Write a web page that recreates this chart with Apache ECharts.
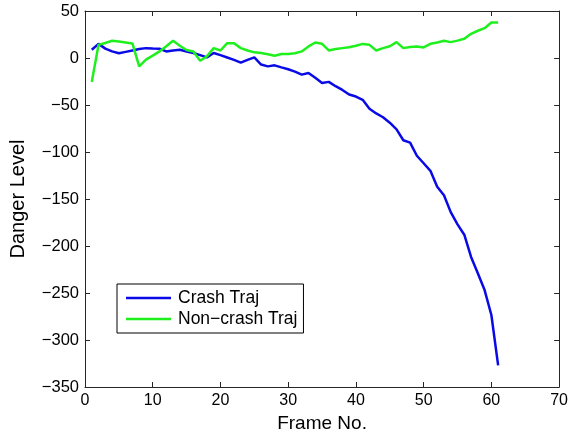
<!DOCTYPE html>
<html>
<head>
<meta charset="utf-8">
<script src="https://cdn.jsdelivr.net/npm/echarts@6/dist/echarts.min.js"></script>
<style>
  html, body { margin: 0; padding: 0; background: #fff; }
  #chart { width: 571px; height: 438px; }
</style>
</head>
<body>
<div id="chart"></div>
<script>
// Frame numbers 1..61
const frames = [];
for (let i = 1; i <= 61; i++) frames.push(i);

// Danger level per frame, crash trajectory
const crashTraj = [
  8.8, 15, 10, 7, 5, 6.5, 8, 9.5, 10.5, 10,
  9.8, 7, 8, 8.8, 7, 5.3, 3, 0.6, 5.3, 3,
  0.5, -2, -5, -2, 0.6, -7, -8.9, -7.8, -10, -12,
  -14.5, -17.7, -15.9, -21, -26.5, -25.4, -30, -34, -38.8, -41,
  -44.5, -54, -59, -63, -68.8, -75.9, -87.5, -90, -104, -112,
  -120, -137, -146, -164, -177, -188, -211.6, -229, -246.9, -273.4,
  -327
];

// Danger level per frame, non-crash trajectory
const nonCrashTraj = [
  -25.4, 14, 16, 18.3, 17.5, 16.5, 15.5, -8.9, -1.8, 2.5,
  7, 12.5, 18.3, 13, 8.5, 7, -2.9, 1.7, 10.5, 8,
  15.8, 15.8, 10.5, 8, 6, 5.3, 4, 2.4, 4.2, 4.2,
  5, 7, 12.3, 16.5, 15.1, 8, 9.5, 10.5, 11.5, 13,
  15, 14, 8, 10.5, 12.5, 16.9, 10.5, 11.6, 12.3, 11.2,
  15.1, 16.5, 18.3, 16.9, 18.5, 20.4, 25.7, 29, 31.7, 37.7,
  37.7
];

const seriesNames = ['Crash Traj', 'Non\u2212crash Traj'];
const seriesColors = ['#0a0ae6', '#1ef01e'];

const pair = (ys) => ys.map((y, i) => [frames[i], y]);

const FONT = '"Liberation Sans", Arial, Helvetica, sans-serif';
const AXIS = '#262626';

const chart = echarts.init(document.getElementById('chart'), null, { renderer: 'canvas' });

const tickLabel = (v) => String(v).replace('-', '\u2212');

// Box frame: axis lines stay on the plot edges, ticks point inward
const baseAxisLine = { show: true, onZero: false, lineStyle: { color: AXIS, width: 1 } };
const innerTick = { show: true, inside: true, length: 5, lineStyle: { color: AXIS, width: 1 } };

chart.setOption({
  animation: false,
  backgroundColor: '#fff',
  grid: { left: 82, right: 11, top: 11, bottom: 49, containLabel: false },
  legend: {
    orient: 'vertical',
    left: 117,
    top: 284,
    padding: [5, 6, 5, 9],
    itemGap: 3,
    itemWidth: 45,
    itemHeight: 2.5,
    icon: 'rect',
    backgroundColor: '#fff',
    borderColor: '#000',
    borderWidth: 1,
    borderRadius: 0,
    textStyle: { fontFamily: FONT, fontSize: 17.5, color: '#000', padding: [0, 0, 0, 2] },
    data: seriesNames
  },
  xAxis: [
    {
      type: 'value', min: 0, max: 70, interval: 10,
      name: 'Frame No.', nameLocation: 'middle', nameGap: 27,
      nameTextStyle: { fontFamily: FONT, fontSize: 19, color: '#000' },
      axisLine: baseAxisLine, axisTick: innerTick,
      axisLabel: { fontFamily: FONT, fontSize: 16, color: '#000', margin: 6 },
      splitLine: { show: false }
    },
    {
      type: 'value', min: 0, max: 70, interval: 10, position: 'top',
      axisLine: baseAxisLine, axisTick: innerTick,
      axisLabel: { show: false }, splitLine: { show: false }
    }
  ],
  yAxis: [
    {
      type: 'value', min: -350, max: 50, interval: 50,
      name: 'Danger Level', nameLocation: 'middle', nameGap: 57,
      nameTextStyle: { fontFamily: FONT, fontSize: 20, color: '#000' },
      axisLine: baseAxisLine, axisTick: innerTick,
      axisLabel: { fontFamily: FONT, fontSize: 16.5, color: '#000', margin: 6, formatter: tickLabel },
      splitLine: { show: false }
    },
    {
      type: 'value', min: -350, max: 50, interval: 50, position: 'right',
      axisLine: baseAxisLine, axisTick: innerTick,
      axisLabel: { show: false }, splitLine: { show: false }
    }
  ],
  series: [
    {
      name: seriesNames[0], type: 'line', data: pair(crashTraj),
      showSymbol: false, symbol: 'none',
      lineStyle: { color: seriesColors[0], width: 2.5 },
      itemStyle: { color: seriesColors[0] }
    },
    {
      name: seriesNames[1], type: 'line', data: pair(nonCrashTraj),
      showSymbol: false, symbol: 'none',
      lineStyle: { color: seriesColors[1], width: 2.5 },
      itemStyle: { color: seriesColors[1] }
    }
  ]
});
</script>
</body>
</html>
